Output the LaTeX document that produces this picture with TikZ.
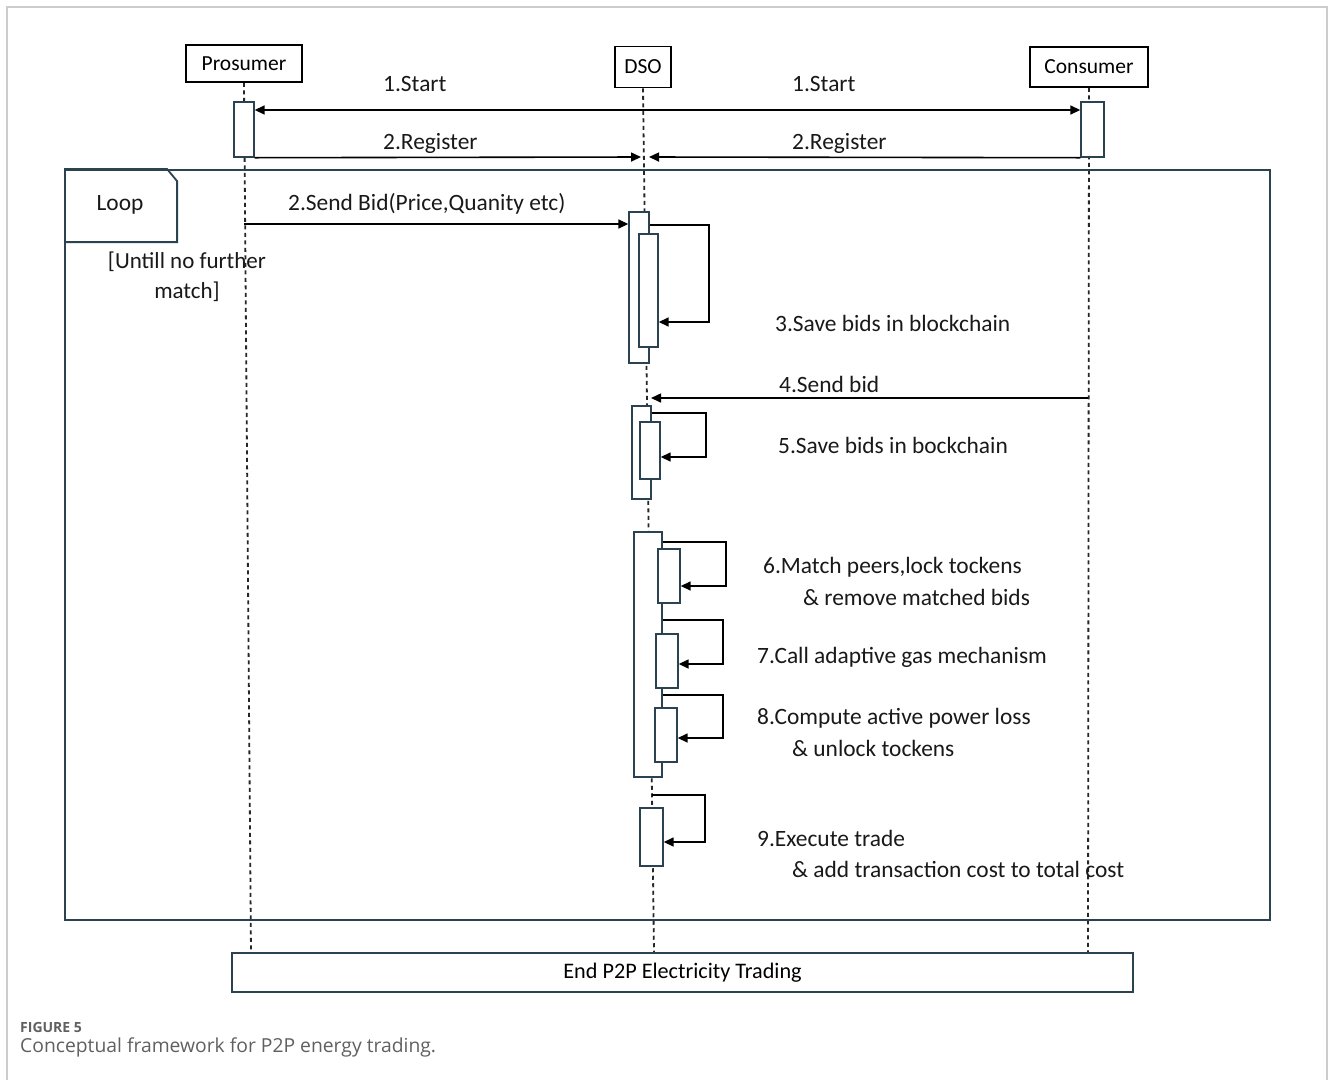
\documentclass[tikz,border=0pt]{standalone}
\usepackage{fontspec}
\setmainfont{Carlito}
\newfontfamily\capfont{Open Sans}
\usetikzlibrary{arrows.meta}
\definecolor{framec}{HTML}{2B4250}
\definecolor{capgray}{HTML}{606060}
\definecolor{bordergray}{HTML}{CCCCCC}
\begin{document}
\begin{tikzpicture}[x=1pt,y=-1pt,
 hdr/.style={draw=black, line width=1.6pt, fill=white, inner sep=0pt, font=\fontsize{21.5}{24}\selectfont},
 act/.style={draw=framec, line width=1.4pt, fill=white, inner sep=0pt},
 lifeline/.style={black!85, line width=1.8pt, dash pattern=on 4pt off 3.5pt},
 msg/.style={black, line width=1.6pt, -{Triangle[length=10pt,width=9pt]}},
 msgboth/.style={black, line width=1.6pt, {Triangle[length=10pt,width=9pt]}-{Triangle[length=10pt,width=9pt]}},
 lbl/.style={inner sep=0pt, font=\fontsize{23.4}{28}\selectfont, text=black!90, anchor=west},
 frm/.style={draw=framec, line width=1.8pt},
]
\useasboundingbox (0,0) rectangle (1330,1080);
\fill[white] (0,0) rectangle (1330,1080);
\draw[bordergray, line width=1.5pt] (7,1080) -- (7,7) -- (1327,7) -- (1327,1080);

% headers
\node[hdr, minimum width=116pt, minimum height=37pt] (pro) at (244,63.5) {Prosumer};
\node[hdr, minimum width=56pt, minimum height=41pt] (dso) at (643,67) {DSO};
\node[hdr, minimum width=118pt, minimum height=40pt] (con) at (1089,67) {Consumer};

% lifelines
\coordinate (proE) at (251,953);
\coordinate (dsoE) at (654,953);
\coordinate (conE) at (1088,953);
\draw[lifeline] (pro.south) -- (proE);
\draw[lifeline] (dso.south) -- (dsoE);
\draw[lifeline] (con.south) -- (conE);

% loop frame
\node[frm, minimum width=1205pt, minimum height=750pt, inner sep=0pt] (loop) at (667.5,545) {};
\draw[frm] (loop.north west) -- ++(103,0) -- ++(10,12) -- ++(0,61) -- ++(-113,0);
\node[lbl, anchor=center] (looplbl) at (120,205) {Loop};
\node[lbl, anchor=center, align=center, font=\fontsize{23}{30}\selectfont] (guard) at (187,277) {[Untill no further\\match]};

% activation boxes top
\node[act, minimum width=20pt, minimum height=55pt] (pa) at (244,129.5) {};
\node[act, minimum width=23pt, minimum height=55pt] (ca) at (1092.5,129.5) {};

% 1. Start
\coordinate (m1) at (645,110);
\draw[msgboth] (pa.east |- m1) -- (ca.west |- m1);
\node[lbl] (l1a) at (383,84) {1.Start};
\node[lbl] (l1b) at (792,84) {1.Start};

% 2. Register
\coordinate (m2l) at (641,157);
\coordinate (m2r) at (649,157);
\draw[msg] (pa.south east) -- (m2l);
\draw[msg] (ca.south west) -- (m2r);
\node[lbl] (l2a) at (383,143) {2.Register};
\node[lbl] (l2b) at (792,143) {2.Register};

% 2. Send Bid
\node[act, minimum width=20pt, minimum height=151pt] (a1) at (639,287.5) {};
\node[act, minimum width=19pt, minimum height=113pt] (a2) at (648.5,290.5) {};
\coordinate (m3) at (244,224);
\draw[msg] (m3) -- (a1.west |- m3);
\node[lbl] (l3) at (288,204) {2.Send Bid(Price,Quanity etc)};
\coordinate (s3a) at (709,225);
\coordinate (s3b) at (709,322);
\draw[msg] (a1.east |- s3a) -- (s3a) -- (s3b) -- (a2.east |- s3b);
\node[lbl] (l3s) at (775,323) {3.Save bids in blockchain};

% 4. Send bid
\coordinate (m4s) at (1088,398);
\coordinate (m4e) at (651,398);
\draw[msg] (m4s) -- (m4e);
\node[lbl] (l4) at (779,384) {4.Send bid};
\node[act, minimum width=19pt, minimum height=93pt] (b1) at (641.5,452.5) {};
\node[act, minimum width=20pt, minimum height=57pt] (b2) at (650,450.5) {};
\coordinate (s5a) at (706,413);
\coordinate (s5b) at (706,457);
\draw[msg] (b1.east |- s5a) -- (s5a) -- (s5b) -- (b2.east |- s5b);
\node[lbl] (l5) at (778,445) {5.Save bids in bockchain};

% 6-8
\node[act, minimum width=28pt, minimum height=245pt] (c1) at (648,654.5) {};
\node[act, minimum width=22pt, minimum height=54pt] (c6) at (669,576) {};
\node[act, minimum width=22pt, minimum height=54pt] (c7) at (667,661) {};
\node[act, minimum width=22pt, minimum height=54pt] (c8) at (666,735) {};
\coordinate (s6a) at (726,542);
\coordinate (s6b) at (726,586);
\draw[msg] (c1.east |- s6a) -- (s6a) -- (s6b) -- (c6.east |- s6b);
\coordinate (s7a) at (723,620);
\coordinate (s7b) at (723,664);
\draw[msg] (c1.east |- s7a) -- (s7a) -- (s7b) -- (c7.east |- s7b);
\coordinate (s8a) at (723,695);
\coordinate (s8b) at (723,738);
\draw[msg] (c1.east |- s8a) -- (s8a) -- (s8b) -- (c8.east |- s8b);
\node[lbl] (l6a) at (763,567) {6.Match peers,lock tockens};
\node[lbl] (l6b) at (803,597) {\& remove matched bids};
\node[lbl] (l7) at (757,657) {7.Call adaptive gas mechanism};
\node[lbl] (l8a) at (757,718) {8.Compute active power loss};
\node[lbl] (l8b) at (792,748) {\& unlock tockens};

% 9
\node[act, minimum width=23pt, minimum height=58pt] (d) at (651.5,837) {};
\coordinate (s9o) at (652,795);
\coordinate (s9a) at (705,795);
\coordinate (s9b) at (705,842);
\draw[msg] (s9o) -- (s9a) -- (s9b) -- (d.east |- s9b);
\node[lbl] (l9a) at (757,838) {9.Execute trade};
\node[lbl] (l9b) at (792,869) {\& add transaction cost to total cost};

% end box
\node[frm, fill=white, minimum width=901pt, minimum height=39pt, inner sep=0pt, font=\fontsize{22.2}{24}\selectfont] (endb) at (682.5,972.5) {End P2P Electricity Trading};

% caption
\node[anchor=west, inner sep=0pt, font=\capfont\bfseries\fontsize{14}{16}\selectfont, text=capgray] (fig) at (20,1027) {FIGURE 5};
\node[anchor=west, inner sep=0pt, font=\capfont\fontsize{19.3}{22}\selectfont, text=capgray] (cap) at (20,1047) {Conceptual framework for P2P energy trading.};
\end{tikzpicture}
\end{document}
